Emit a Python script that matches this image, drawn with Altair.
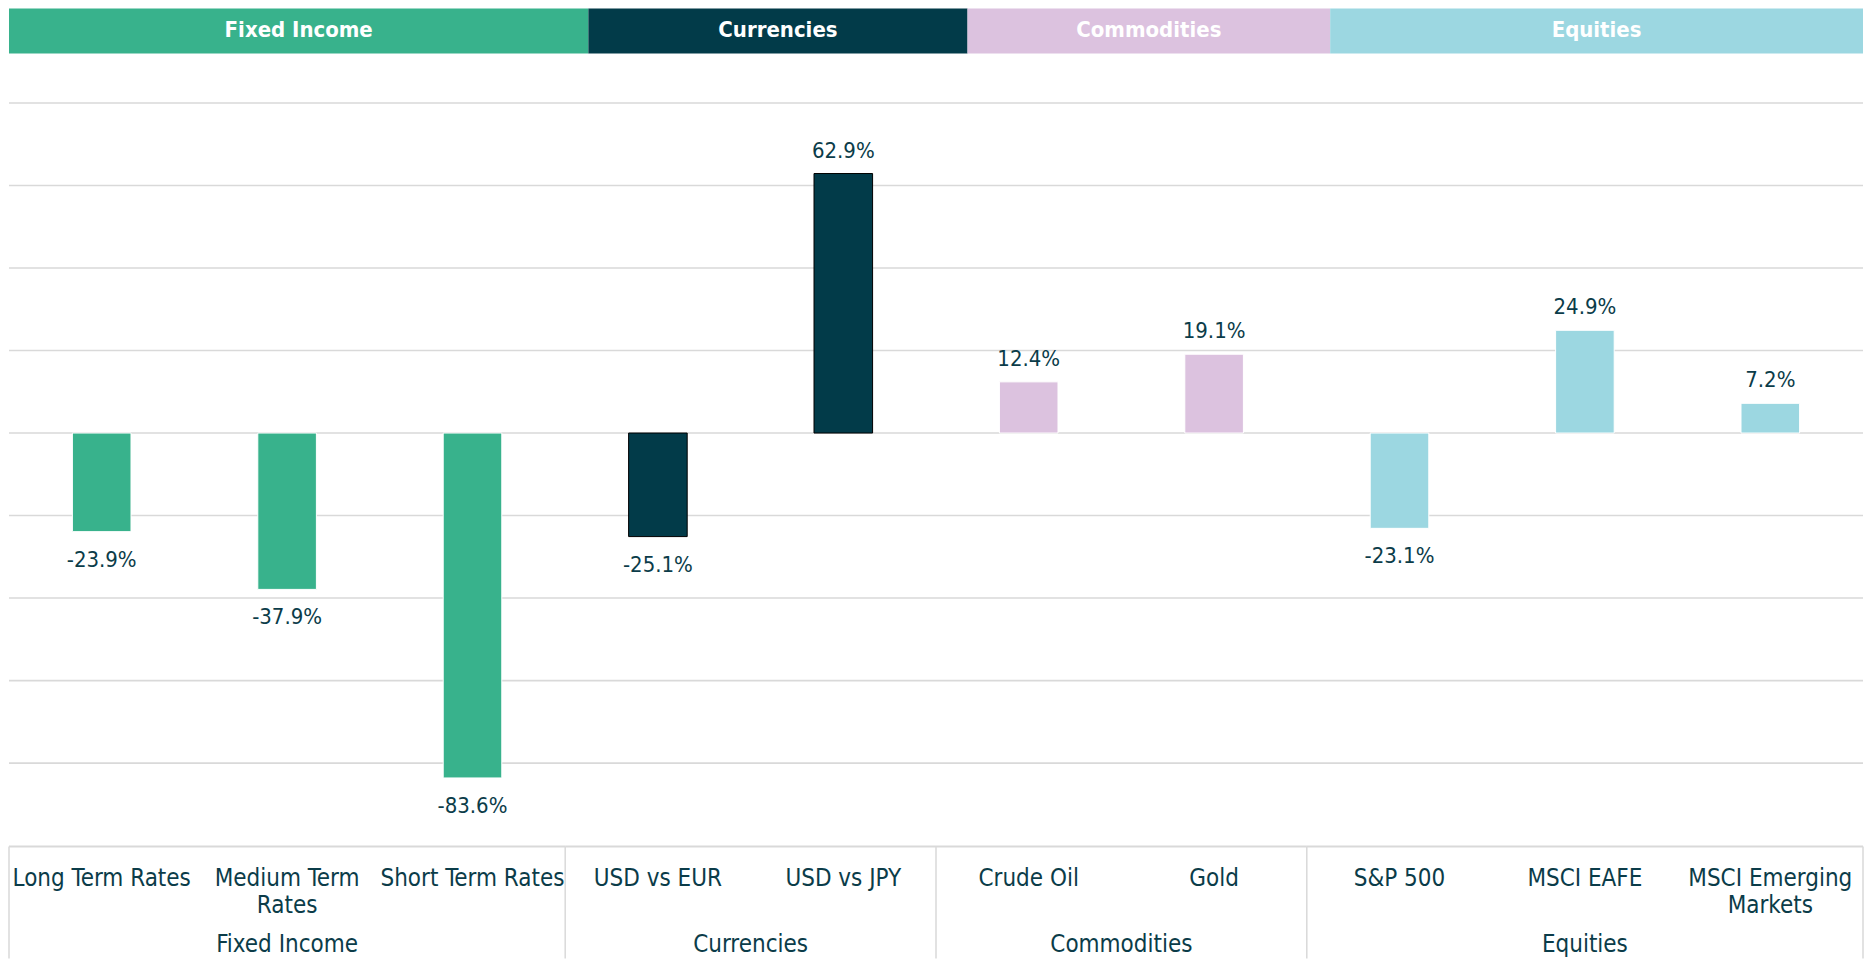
import textwrap
import altair as alt
import pandas as pd

# ---------------- data ----------------
categories = ["Long Term Rates", "Medium Term Rates", "Short Term Rates",
              "USD vs EUR", "USD vs JPY", "Crude Oil", "Gold",
              "S&P 500", "MSCI EAFE", "MSCI Emerging Markets"]
groups = ["Fixed Income", "Fixed Income", "Fixed Income",
          "Currencies", "Currencies", "Commodities", "Commodities",
          "Equities", "Equities", "Equities"]
values = [-23.9, -37.9, -83.6, -25.1, 62.9, 12.4, 19.1, -23.1, 24.9, 7.2]
group_names = ["Fixed Income", "Currencies", "Commodities", "Equities"]
gridline_values = [-80, -60, -40, -20, 0, 20, 40, 60, 80]

# ---------------- style / layout ----------------
group_colors = ["#38b28c", "#023b49", "#dcc2df", "#9cd7e1"]
group_strokes = ["#ffffff", "#000000", "#ffffff", "#ffffff"]
header_edges = [0.0, 0.3125, 0.517, 0.7126, 1.0]  # header band split (fraction of width)
W = 1856
FONT = "DejaVu Sans Condensed, Liberation Sans Narrow, DejaVu Sans, sans-serif"
TEXT = "#0b3c49"
GRID = "#d9d9d9"
HEADER_H = 45
BAR_H = 793
TABLE_H = 112

df = pd.DataFrame({"category": categories, "group": groups, "value": values})
df["label"] = df["value"].map(lambda v: f"{v:.1f}%")
df["idx"] = range(len(df))
df["mid"] = df["idx"] + 0.5
df["wrapped"] = df["category"].map(lambda s: "\n".join(textwrap.wrap(s, 16)))

counts = [groups.count(g) for g in group_names]
starts, acc = [], 0
for c in counts:
    starts.append(acc)
    acc += c
gdf = pd.DataFrame({"group": group_names, "start": starts,
                    "end": [s + c for s, c in zip(starts, counts)]})
gdf["gmid"] = (gdf["start"] + gdf["end"]) / 2
bdf = pd.DataFrame({"edge": starts + [len(categories)]})

hdf = pd.DataFrame({"group": group_names, "x0": header_edges[:-1], "x1": header_edges[1:]})
hdf["xm"] = (hdf["x0"] + hdf["x1"]) / 2

grid_df = pd.DataFrame({"g": gridline_values})

color_scale = alt.Scale(domain=group_names, range=group_colors)

# ---------------- header ----------------
hx = alt.Scale(domain=[0, 1], nice=False, zero=False)
header = alt.layer(
    alt.Chart(hdf).mark_rect().encode(
        x=alt.X("x0:Q", scale=hx, axis=None), x2="x1:Q",
        y=alt.value(0), y2=alt.value(HEADER_H),
        color=alt.Color("group:N", scale=color_scale, legend=None),
    ),
    alt.Chart(hdf).mark_text(color="white", fontWeight="bold", fontSize=22, font=FONT,
                             baseline="middle").encode(
        x=alt.X("xm:Q", scale=hx, axis=None), y=alt.value(HEADER_H / 2 - 1), text="group:N",
    ),
).properties(width=W, height=HEADER_H)

# ---------------- bars ----------------
xband = alt.X("category:N", sort=categories,
              scale=alt.Scale(paddingInner=0, paddingOuter=0), axis=None)
yscale = alt.Scale(domain=[-100, 92], nice=False, zero=False)

grid = alt.Chart(grid_df).mark_rule(color=GRID, strokeWidth=1.6).encode(
    y=alt.Y("g:Q", scale=yscale, axis=None),
    x=alt.value(0), x2=alt.value(W),
)
bars = alt.Chart(df).mark_bar(width=alt.RelativeBandSize(0.316), strokeWidth=1).encode(
    x=xband,
    y=alt.Y("value:Q", scale=yscale, axis=None),
    y2=alt.datum(0),
    color=alt.Color("group:N", scale=color_scale, legend=None),
    stroke=alt.Stroke("group:N", scale=alt.Scale(domain=group_names, range=group_strokes),
                      legend=None),
)
pos_labels = alt.Chart(df).transform_filter("datum.value >= 0").mark_text(
    dy=-16, baseline="alphabetic", fontSize=22, font=FONT, color=TEXT
).encode(x=xband, y=alt.Y("value:Q", scale=yscale, axis=None), text="label:N")
neg_labels = alt.Chart(df).transform_filter("datum.value < 0").mark_text(
    dy=35, baseline="alphabetic", fontSize=22, font=FONT, color=TEXT
).encode(x=xband, y=alt.Y("value:Q", scale=yscale, axis=None), text="label:N")

barchart = alt.layer(grid, bars, pos_labels, neg_labels).properties(width=W, height=BAR_H)

# ---------------- table ----------------
tx = alt.Scale(domain=[0, len(categories)], nice=False, zero=False)
table = alt.layer(
    alt.Chart(bdf).mark_rule(color=GRID, strokeWidth=1.5).encode(
        x=alt.X("edge:Q", scale=tx, axis=None), y=alt.value(0), y2=alt.value(TABLE_H),
    ),
    alt.Chart(gdf).mark_rule(color=GRID, strokeWidth=2).encode(
        x=alt.X("start:Q", scale=tx, axis=None), x2="end:Q", y=alt.value(0),
    ),
    alt.Chart(df).mark_text(font=FONT, fontSize=24, color=TEXT, baseline="alphabetic",
                            lineBreak="\n", lineHeight=27).encode(
        x=alt.X("mid:Q", scale=tx, axis=None), y=alt.value(39), text="wrapped:N",
    ),
    alt.Chart(gdf).mark_text(font=FONT, fontSize=24, color=TEXT, baseline="alphabetic").encode(
        x=alt.X("gmid:Q", scale=tx, axis=None), y=alt.value(106), text="group:N",
    ),
).properties(width=W, height=TABLE_H)

chart = alt.vconcat(header, barchart, table, spacing=0).properties(
    padding=0, background="white"
).configure_view(stroke=None).configure_concat(spacing=0)

chart.save("out.html", embed_options={"renderer": "svg", "actions": False})
